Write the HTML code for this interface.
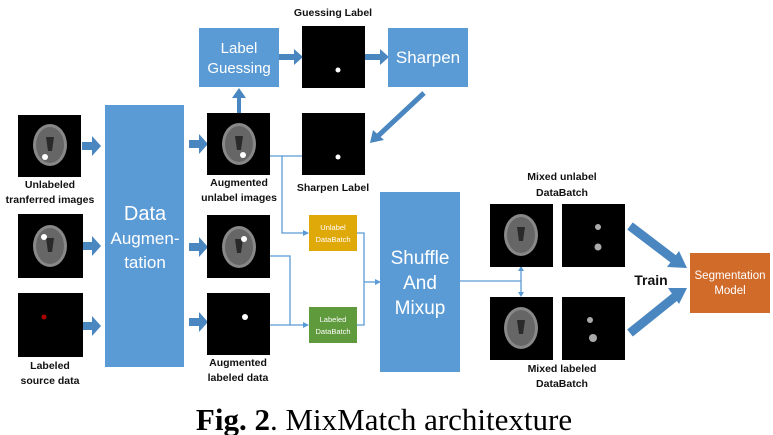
<!DOCTYPE html>
<html><head><style>body{margin:0;background:#fff}svg{display:block}</style></head><body>
<svg width="773" height="435" viewBox="0 0 773 435" xmlns="http://www.w3.org/2000/svg" font-family="Liberation Sans, sans-serif">
<defs>
<marker id="ta" markerWidth="6" markerHeight="6" refX="5" refY="3" orient="auto" markerUnits="userSpaceOnUse"><path d="M0,0 L6,3 L0,6 z" fill="#5b9bd5"/></marker>
<g id="brain"><ellipse cx="0" cy="0" rx="17" ry="21" fill="#888"/><ellipse cx="0" cy="0" rx="14" ry="18" fill="#666"/><path d="M-4,-8 L4,-8 L2,6 L-2,6z" fill="#2a2a2a"/></g>
</defs>
<g fill="#4a86c0">
<path d="M82,142h10v-6l9,10l-9,10v-6h-10z"/>
<path d="M82,242h10v-6l9,10l-9,10v-6h-10z"/>
<path d="M82,322h10v-6l9,10l-9,10v-6h-10z"/>
<path d="M189,140h10v-6l9,10l-9,10v-6h-10z"/>
<path d="M189,243h10v-6l9,10l-9,10v-6h-10z"/>
<path d="M189,318h10v-6l9,10l-9,10v-6h-10z"/>
<path d="M279,54h15v-5l9,8l-9,8v-5h-15z"/>
<path d="M365,54h15v-5l9,8l-9,8v-5h-15z"/>
<path d="M237,113v-15h-5l7,-10l7,10h-5v15z"/>
</g>
<line x1="424" y1="93" x2="378" y2="136" stroke="#4a86c0" stroke-width="5"/>
<path d="M370,143 L373,130 L384,140z" fill="#4a86c0"/>
<line x1="630" y1="226" x2="676" y2="261" stroke="#4a86c0" stroke-width="9"/>
<path d="M687,268 L667,267 L679,251z" fill="#4a86c0"/>
<line x1="630" y1="333" x2="676" y2="296" stroke="#4a86c0" stroke-width="9"/>
<path d="M687,288 L668,288 L679,304z" fill="#4a86c0"/>
<g stroke="#5b9bd5" stroke-width="1.3" fill="none">
<path d="M270,156 H302"/><path d="M282,156 V233 H308" marker-end="url(#ta)"/>
<path d="M270,256 H290 V325"/><path d="M270,325 H308" marker-end="url(#ta)"/>
<path d="M357,233 H364 V325 H357"/><path d="M364,282 H380" marker-end="url(#ta)"/>
<path d="M460,281 H521"/><path d="M521,270 V294"/>
</g>
<path d="M521,266 l-3,5 h6z M521,297 l-3,-5 h6z" fill="#5b9bd5"/>
<rect x="105" y="105" width="79" height="262" fill="#5b9bd5"/>
<text fill="#fff" text-anchor="middle" font-size="20"><tspan x="145" y="220">Data</tspan><tspan x="145" y="244" font-size="17">Augmen-</tspan><tspan x="145" y="268" font-size="17">tation</tspan></text>
<rect x="199" y="28" width="80" height="59" fill="#5b9bd5"/>
<text fill="#fff" text-anchor="middle" font-size="15"><tspan x="239" y="53">Label</tspan><tspan x="239" y="73">Guessing</tspan></text>
<rect x="388" y="28" width="80" height="59" fill="#5b9bd5"/>
<text x="428" y="63" fill="#fff" text-anchor="middle" font-size="17">Sharpen</text>
<rect x="380" y="192" width="80" height="180" fill="#5b9bd5"/>
<text fill="#fff" text-anchor="middle" font-size="19"><tspan x="420" y="264">Shuffle</tspan><tspan x="420" y="289">And</tspan><tspan x="420" y="314">Mixup</tspan></text>
<rect x="309" y="215" width="48" height="36" fill="#e0a90a"/>
<text fill="#fff" text-anchor="middle" font-size="7.5"><tspan x="333" y="230">Unlabel</tspan><tspan x="333" y="242">DataBatch</tspan></text>
<rect x="309" y="307" width="48" height="36" fill="#5f9a3c"/>
<text fill="#fff" text-anchor="middle" font-size="7.5"><tspan x="333" y="322">Labeled</tspan><tspan x="333" y="334">DataBatch</tspan></text>
<rect x="690" y="253" width="80" height="60" fill="#d06b2a"/>
<text fill="#fff" text-anchor="middle" font-size="11.5"><tspan x="730" y="279">Segmentation</tspan><tspan x="730" y="294">Model</tspan></text>
<g fill="#000">
<rect x="18" y="115" width="63" height="62"/><rect x="18" y="214" width="65" height="64"/><rect x="18" y="293" width="65" height="64"/>
<rect x="207" y="113" width="63" height="62"/><rect x="207" y="215" width="63" height="63"/><rect x="207" y="293" width="63" height="62"/>
<rect x="302" y="26" width="63" height="62"/><rect x="302" y="113" width="63" height="62"/>
<rect x="490" y="204" width="63" height="63"/><rect x="562" y="204" width="63" height="63"/>
<rect x="490" y="297" width="63" height="63"/><rect x="562" y="297" width="63" height="63"/>
</g>
<use href="#brain" x="50" y="145"/><use href="#brain" x="50" y="246"/>
<use href="#brain" x="239" y="144"/><use href="#brain" x="239" y="247"/>
<use href="#brain" x="521" y="235"/><use href="#brain" x="521" y="328"/>
<g fill="#fff"><circle cx="45" cy="157" r="3"/><circle cx="44" cy="237" r="3"/><circle cx="243" cy="155" r="3"/><circle cx="244" cy="239" r="3"/>
<circle cx="245" cy="317" r="3"/><circle cx="338" cy="70" r="2.5"/><circle cx="338" cy="157" r="2.5"/></g>
<circle cx="44" cy="317" r="2.5" fill="#a00"/>
<g fill="#aaa"><circle cx="598" cy="227" r="3"/><circle cx="598" cy="247" r="3.5"/><circle cx="590" cy="320" r="3"/><circle cx="593" cy="338" r="4"/></g>
<g font-weight="bold" font-size="10.5" fill="#111" text-anchor="middle">
<text x="50" y="188">Unlabeled</text><text x="50" y="203">tranferred images</text>
<text x="50" y="369">Labeled</text><text x="50" y="384">source data</text>
<text x="239" y="186">Augmented</text><text x="239" y="201">unlabel images</text>
<text x="238" y="366">Augmented</text><text x="238" y="381">labeled data</text>
<text x="333" y="16">Guessing Label</text><text x="333" y="191">Sharpen Label</text>
<text x="562" y="180">Mixed unlabel</text><text x="562" y="196">DataBatch</text>
<text x="562" y="372">Mixed labeled</text><text x="562" y="387">DataBatch</text>
<text x="651" y="285" font-size="14">Train</text>
</g>
<text x="384" y="430" text-anchor="middle" font-family="Liberation Serif, serif" font-size="31" fill="#000"><tspan font-weight="bold">Fig. 2</tspan>. MixMatch architexture</text>
</svg>
</body></html>
